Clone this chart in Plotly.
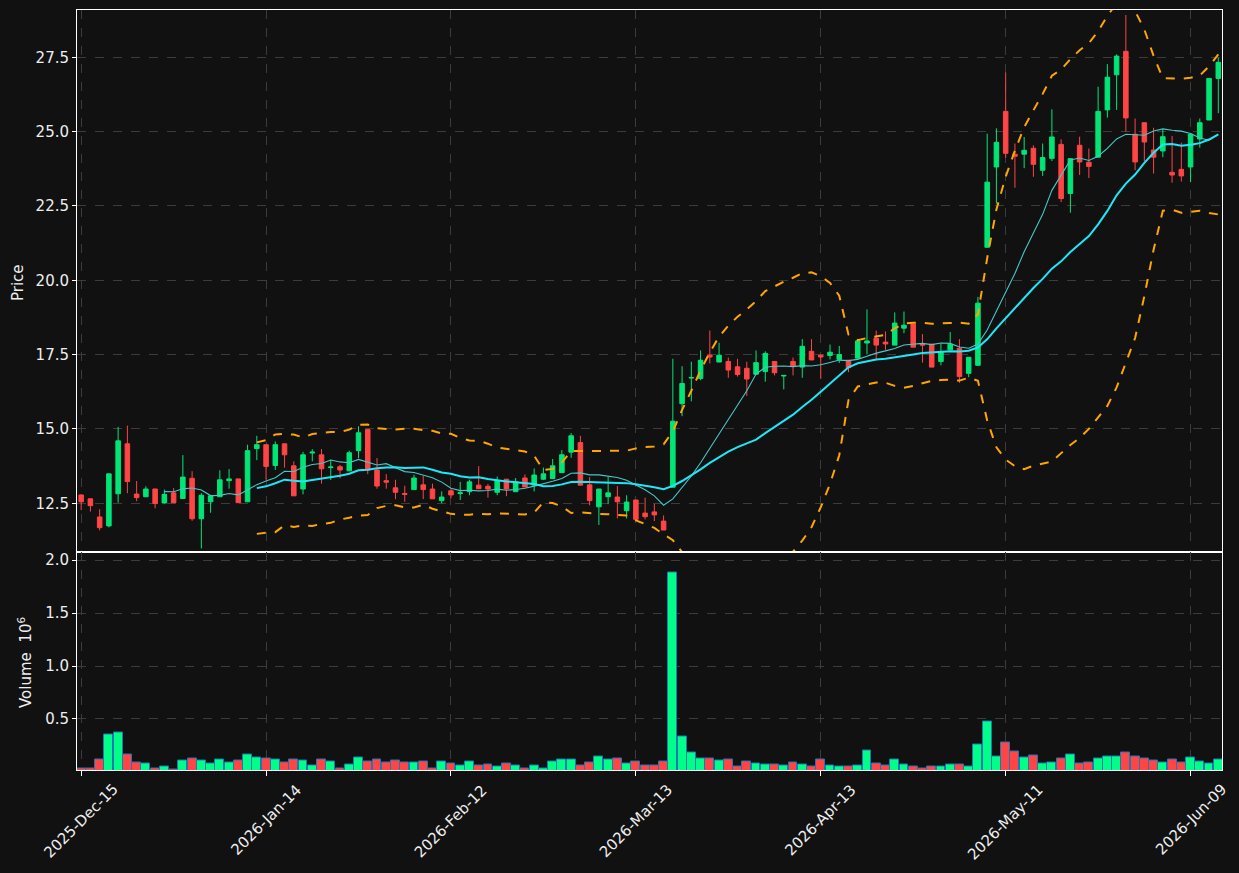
import pandas as pd
import numpy as np
import plotly.graph_objects as go
from plotly.subplots import make_subplots

# ---- calendar (trading days, NYSE holidays skipped) ----
holidays = ["2025-12-25", "2026-01-01", "2026-01-19", "2026-02-16", "2026-04-03", "2026-05-25"]
dates = pd.bdate_range("2025-12-15", "2026-06-12", freq="C", holidays=holidays)
date_labels = [d.strftime("%Y-%b-%d") for d in dates]

# ---- OHLC data ----
open_ = [12.78, 12.65, 12.04, 11.74, 12.82, 14.50, 12.81, 12.72, 12.98, 12.51,
         12.85, 12.66, 13.34, 11.98, 12.55, 12.72, 13.26, 13.32, 12.55, 14.34,
         14.47, 13.77, 14.50, 13.76, 12.98, 14.19, 14.13, 13.70, 13.73, 13.59,
         14.27, 14.98, 13.62, 13.26, 13.02, 12.83, 12.96, 13.12, 12.98, 12.59,
         12.92, 12.83, 12.89, 13.11, 13.07, 12.87, 13.31, 12.89, 13.35, 13.11,
         13.31, 13.33, 13.53, 14.22, 14.54, 13.12, 12.38, 12.72, 12.71, 12.25,
         12.61, 12.17, 12.21, 11.90, 13.04, 15.85, 16.71, 16.70, 17.48, 17.25,
         17.27, 17.09, 17.04, 16.84, 16.93, 17.27, 16.78, 17.27, 17.08, 17.61,
         17.48, 17.47, 17.34, 17.31, 17.38, 17.89, 18.05, 17.92, 17.82, 18.39,
         18.53, 17.86, 17.85, 17.27, 17.66, 17.71, 16.87, 17.14, 21.11, 23.81,
         25.68, 24.24, 24.24, 24.44, 23.70, 24.10, 24.57, 22.92, 24.54, 23.97,
         24.14, 25.73, 26.91, 27.70, 24.91, 25.30, 24.38, 24.35, 23.63, 23.73,
         23.81, 24.75, 25.39, 26.79]
high = [12.80, 12.66, 12.30, 13.49, 15.07, 15.11, 13.25, 13.07, 12.99, 12.96,
        13.01, 14.12, 13.58, 12.84, 12.75, 13.61, 13.65, 13.32, 14.47, 14.77,
        14.47, 14.58, 14.50, 13.91, 14.23, 14.32, 14.32, 13.96, 13.79, 14.27,
        15.09, 15.00, 14.02, 13.48, 13.29, 13.09, 13.46, 13.42, 13.16, 12.90,
        12.99, 13.22, 13.29, 13.75, 13.15, 13.40, 13.31, 13.35, 13.47, 13.67,
        13.70, 13.99, 14.29, 14.86, 14.77, 13.38, 12.98, 13.40, 13.08, 12.77,
        12.61, 12.69, 12.48, 12.09, 17.36, 17.11, 17.26, 17.64, 18.31, 17.90,
        17.40, 17.36, 17.26, 17.64, 17.61, 17.27, 16.80, 17.40, 18.02, 18.02,
        17.50, 17.84, 17.79, 17.31, 17.96, 19.02, 18.31, 18.28, 18.92, 18.95,
        18.53, 18.19, 17.85, 17.86, 18.26, 18.02, 17.41, 19.44, 24.93, 25.11,
        26.99, 24.60, 24.82, 24.54, 24.60, 25.75, 24.74, 24.09, 24.83, 24.43,
        26.51, 27.27, 27.60, 28.92, 25.44, 25.30, 25.13, 25.08, 24.85, 24.63,
        24.91, 25.44, 26.79, 27.48]
low = [12.27, 12.22, 11.59, 11.69, 12.52, 12.84, 12.57, 12.72, 12.33, 12.49,
       12.52, 12.66, 11.91, 10.98, 12.18, 12.72, 12.99, 12.52, 12.55, 13.95,
       13.30, 13.62, 13.70, 12.75, 12.80, 13.91, 13.16, 13.28, 13.34, 13.59,
       14.02, 13.48, 12.99, 12.99, 12.64, 12.55, 12.96, 12.64, 12.65, 12.50,
       12.67, 12.61, 12.77, 12.99, 12.69, 12.77, 12.74, 12.89, 13.05, 12.90,
       13.28, 13.33, 13.53, 14.03, 13.11, 12.43, 11.77, 12.47, 11.99, 11.99,
       11.91, 11.96, 11.90, 11.60, 13.04, 15.43, 15.93, 16.64, 17.20, 17.25,
       16.72, 16.76, 16.11, 16.84, 16.59, 16.80, 16.33, 16.80, 16.72, 17.32,
       16.69, 17.34, 17.22, 16.91, 17.38, 17.51, 17.36, 17.66, 17.82, 18.22,
       17.75, 17.23, 17.08, 17.14, 17.66, 16.55, 16.74, 17.14, 21.11, 22.58,
       24.12, 23.11, 23.77, 23.48, 23.51, 24.01, 22.63, 22.27, 23.54, 23.44,
       24.14, 25.47, 25.73, 25.00, 23.70, 24.01, 23.59, 24.14, 23.28, 23.32,
       23.30, 24.46, 25.39, 25.62]
close = [12.55, 12.42, 11.68, 13.49, 14.60, 13.23, 12.69, 12.98, 12.49, 12.80,
         12.52, 13.38, 11.98, 12.77, 12.75, 13.29, 13.32, 12.52, 14.27, 14.47,
         13.74, 14.47, 14.13, 12.75, 14.13, 14.22, 13.66, 13.72, 13.62, 14.20,
         14.87, 13.62, 13.08, 13.21, 12.87, 12.80, 13.35, 12.96, 12.65, 12.71,
         12.78, 12.85, 13.22, 12.99, 12.98, 13.26, 12.98, 13.22, 13.05, 13.45,
         13.49, 13.76, 14.13, 14.77, 13.11, 12.59, 12.98, 12.85, 12.55, 12.54,
         11.96, 12.05, 12.11, 11.60, 15.26, 16.53, 16.73, 17.31, 17.42, 17.48,
         16.98, 16.83, 16.68, 17.23, 17.54, 16.89, 16.80, 17.10, 17.78, 17.32,
         17.42, 17.58, 17.50, 17.06, 17.96, 17.96, 17.82, 17.86, 18.56, 18.49,
         17.75, 17.82, 17.08, 17.58, 17.85, 16.76, 17.41, 19.23, 23.30, 24.64,
         24.27, 24.17, 24.37, 23.90, 24.13, 24.82, 22.75, 24.09, 23.98, 23.83,
         25.68, 26.83, 27.54, 25.46, 23.98, 24.65, 24.14, 24.83, 23.54, 23.51,
         24.91, 25.30, 26.79, 27.33]
# volume in millions
volume_m = [0.037, 0.037, 0.113, 0.351, 0.370, 0.161, 0.085, 0.075, 0.028, 0.047,
            0.020, 0.104, 0.123, 0.104, 0.075, 0.113, 0.085, 0.104, 0.161, 0.132,
            0.123, 0.113, 0.085, 0.113, 0.104, 0.056, 0.113, 0.094, 0.028, 0.066,
            0.132, 0.094, 0.113, 0.085, 0.104, 0.085, 0.085, 0.094, 0.037, 0.094,
            0.075, 0.056, 0.094, 0.056, 0.066, 0.047, 0.075, 0.056, 0.028, 0.056,
            0.037, 0.094, 0.113, 0.113, 0.056, 0.085, 0.142, 0.113, 0.123, 0.075,
            0.094, 0.056, 0.056, 0.094, 1.885, 0.332, 0.180, 0.123, 0.123, 0.104,
            0.113, 0.047, 0.094, 0.075, 0.066, 0.066, 0.056, 0.085, 0.066, 0.047,
            0.113, 0.056, 0.047, 0.047, 0.056, 0.199, 0.075, 0.056, 0.113, 0.066,
            0.047, 0.037, 0.047, 0.047, 0.066, 0.066, 0.047, 0.256, 0.475, 0.142,
            0.275, 0.190, 0.132, 0.151, 0.075, 0.085, 0.123, 0.161, 0.075, 0.085,
            0.123, 0.142, 0.142, 0.180, 0.142, 0.123, 0.104, 0.085, 0.113, 0.085,
            0.132, 0.094, 0.075, 0.113]

tick_every = 20

# ---- derived indicators ----
cs = pd.Series(close)
ma10 = cs.rolling(10).mean()
ma20 = cs.rolling(20).mean()
sd20 = cs.rolling(20).std()
bb_up = ma20 + 2 * sd20
bb_lo = ma20 - 2 * sd20

def nn(s):
    return [None if pd.isna(v) else float(v) for v in s]

UP_C = "#00e676"
DN_C = "#ff4545"
VUP_C = "#00ff88"
VDN_C = "#ff4545"
BG = "#111111"
GRID = "#3c3c3c"
TXT = "#eeeeee"
FONT = "DejaVu Sans"
FS = 15

fig = make_subplots(rows=2, cols=1, shared_xaxes=True, vertical_spacing=0)

fig.add_trace(go.Candlestick(
    x=date_labels, open=open_, high=high, low=low, close=close,
    increasing=dict(line=dict(color=UP_C, width=1), fillcolor=UP_C),
    decreasing=dict(line=dict(color=DN_C, width=1), fillcolor=DN_C),
    whiskerwidth=0, showlegend=False, hoverinfo="skip"), row=1, col=1)

fig.add_trace(go.Scatter(x=date_labels, y=nn(ma10), mode="lines",
                         line=dict(color="#45c8c8", width=1.1), showlegend=False), row=1, col=1)
fig.add_trace(go.Scatter(x=date_labels, y=nn(ma20), mode="lines",
                         line=dict(color="#1ee8f8", width=2), showlegend=False), row=1, col=1)
fig.add_trace(go.Scatter(x=date_labels, y=nn(bb_up), mode="lines",
                         line=dict(color="#ffa500", width=2, dash="dash"), showlegend=False), row=1, col=1)
fig.add_trace(go.Scatter(x=date_labels, y=nn(bb_lo), mode="lines",
                         line=dict(color="#ffa500", width=2, dash="dash"), showlegend=False), row=1, col=1)

vcolors = [VUP_C if c >= o else VDN_C for o, c in zip(open_, close)]
fig.add_trace(go.Bar(x=date_labels, y=volume_m, marker=dict(color=vcolors, line=dict(color="#1f77b4", width=1)),
                     width=0.96, showlegend=False, hoverinfo="skip"), row=2, col=1)

tickvals = date_labels[::tick_every]
split = 0.2862
xcommon = dict(type="category", range=[-0.45, 123.4], tickvals=tickvals, ticktext=tickvals,
               showgrid=True, gridcolor=GRID, griddash="dash", gridwidth=1,
               showline=True, linecolor="white", linewidth=1, mirror=True,
               zeroline=False, rangeslider=dict(visible=False), showticklabels=False)
fig.update_xaxes(**xcommon)
fig.update_xaxes(ticks="", row=1, col=1)
fig.update_xaxes(ticks="outside", ticklen=5, tickcolor="white", row=2, col=1)

# rotated tick labels centred on their ticks
for t in tickvals:
    fig.add_annotation(text=t, x=t, xref="x2", y=0, yref="paper", xanchor="center", yanchor="top",
                       yshift=-8, textangle=-45, showarrow=False,
                       font=dict(color=TXT, size=FS, family=FONT))

ycommon = dict(showgrid=True, gridcolor=GRID, griddash="dash", gridwidth=1,
               showline=True, linecolor="white", linewidth=1, mirror=True, zeroline=False,
               ticks="outside", ticklen=4, tickcolor="white",
               tickfont=dict(color=TXT, size=FS, family=FONT))
fig.update_yaxes(**ycommon)
fig.update_yaxes(range=[10.845, 29.09], tickvals=[12.5, 15.0, 17.5, 20.0, 22.5, 25.0, 27.5],
                 ticktext=["12.5", "15.0", "17.5", "20.0", "22.5", "25.0", "27.5"],
                 domain=[split, 1.0], row=1, col=1)
fig.update_yaxes(range=[0.018, 2.073], tickvals=[0.5, 1.0, 1.5, 2.0],
                 ticktext=["0.5", "1.0", "1.5", "2.0"], domain=[0.0, split], row=2, col=1)

fig.add_annotation(text="Price", xref="paper", yref="paper", x=0, y=0.6408,
                   xanchor="center", yanchor="middle",
                   xshift=-59, showarrow=False, textangle=-90,
                   font=dict(color=TXT, size=FS, family=FONT))
fig.add_annotation(text="Volume  10<sup>6</sup>", xref="paper", yref="paper", x=0, y=0.1408,
                   xanchor="center", yanchor="middle",
                   xshift=-52, showarrow=False, textangle=-90,
                   font=dict(color=TXT, size=FS, family=FONT))

fig.update_layout(width=1239, height=873, paper_bgcolor=BG, plot_bgcolor=BG,
                  margin=dict(l=77, r=17, t=10, b=103), bargap=0,
                  font=dict(family=FONT, color=TXT, size=FS), showlegend=False)

fig.write_html("out.html")
